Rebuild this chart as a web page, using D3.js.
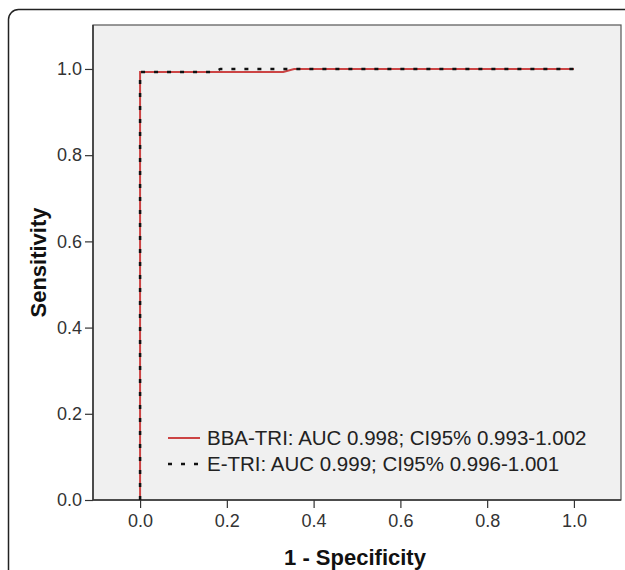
<!DOCTYPE html>
<html>
<head>
<meta charset="utf-8">
<script src="https://cdn.jsdelivr.net/npm/d3@7"></script>
<style>
  body { margin: 0; background: #fff; }
  text { font-family: "Liberation Sans", Arial, sans-serif; }
</style>
</head>
<body>
<svg id="chart" width="625" height="570"></svg>
<script>
// ROC points: [1 - specificity, sensitivity]
const bbaPoints = [[0, 0], [0, 0.993], [0.33, 0.993], [0.355, 1], [1, 1]];
const etriPoints = [[0, 0], [0, 0.993], [0.17, 0.993], [0.185, 1], [1, 1]];
const legendLabels = [
  'BBA-TRI: AUC 0.998; CI95% 0.993-1.002',
  'E-TRI: AUC 0.999; CI95% 0.996-1.001'
];
const xTicks = [0, 0.2, 0.4, 0.6, 0.8, 1.0];
const yTicks = [0, 0.2, 0.4, 0.6, 0.8, 1.0];

const svg = d3.select('#chart');

// outer rounded frame (runs off the right/bottom edges)
svg.append('rect')
  .attr('x', 8.5).attr('y', 9.5)
  .attr('width', 700).attr('height', 700)
  .attr('rx', 10)
  .style('fill', 'white')
  .style('stroke', '#222')
  .style('stroke-width', 1.5);

const margin = { left: 93, top: 25, right: 621, bottom: 500 };

const x = d3.scaleLinear().domain([-0.1085, 1.1085]).range([margin.left, margin.right]);
const y = d3.scaleLinear().domain([0, 1.102]).range([margin.bottom, margin.top]);

svg.append('rect')
  .attr('x', margin.left).attr('y', margin.top)
  .attr('width', margin.right - margin.left)
  .attr('height', margin.bottom - margin.top)
  .style('fill', '#f0f0f0')
  .style('stroke', '#555')
  .style('stroke-width', 1.2);

const xAxis = d3.axisBottom(x).tickValues(xTicks).tickFormat(d3.format('.1f')).tickSize(8).tickPadding(6);
const yAxis = d3.axisLeft(y).tickValues(yTicks).tickFormat(d3.format('.1f')).tickSize(8).tickPadding(3);

const xG = svg.append('g').attr('transform', `translate(0,${margin.bottom})`).call(xAxis);
const yG = svg.append('g').attr('transform', `translate(${margin.left},0)`).call(yAxis);
[xG, yG].forEach(g => {
  g.attr('font-family', null).attr('font-size', null);
  g.select('.domain').remove();
  g.selectAll('line').style('stroke', '#333').style('stroke-width', 1.2);
  g.selectAll('text').style('font-size', '18px').style('fill', '#333');
});
svg.append('line')
  .attr('x1', margin.left).attr('x2', margin.right)
  .attr('y1', margin.bottom).attr('y2', margin.bottom)
  .style('stroke', '#333').style('stroke-width', 1.5);
svg.append('line')
  .attr('x1', margin.left).attr('x2', margin.left)
  .attr('y1', margin.top).attr('y2', margin.bottom)
  .style('stroke', '#333').style('stroke-width', 1.5);

// axis titles
svg.append('text')
  .attr('x', (margin.left + margin.right) / 2 - 2)
  .attr('y', 565)
  .attr('text-anchor', 'middle')
  .style('font-size', '22px').style('font-weight', 'bold').style('fill', '#111')
  .text('1 - Specificity');
svg.append('text')
  .attr('transform', `translate(46,${(margin.top + margin.bottom) / 2}) rotate(-90)`)
  .attr('text-anchor', 'middle')
  .style('font-size', '22px').style('font-weight', 'bold').style('fill', '#111')
  .text('Sensitivity');

const line = d3.line().x(d => x(d[0])).y(d => y(d[1]));

svg.append('path')
  .datum(bbaPoints)
  .attr('d', line)
  .style('fill', 'none')
  .style('stroke', '#cc4444')
  .style('stroke-width', 2);

svg.append('path')
  .datum(etriPoints)
  .attr('d', line)
  .style('fill', 'none')
  .style('stroke', '#111')
  .style('stroke-width', 2.5)
  .style('stroke-dasharray', '4,9');

// legend
const legend = svg.append('g').attr('transform', 'translate(168,438)');
const styles = [
  { stroke: '#cc4444', width: 2, dash: null },
  { stroke: '#111', width: 2.5, dash: '4,9' }
];
legendLabels.forEach((label, i) => {
  const g = legend.append('g').attr('transform', `translate(0,${i * 26})`);
  g.append('line')
    .attr('x1', 0).attr('x2', 32).attr('y1', 0).attr('y2', 0)
    .style('stroke', styles[i].stroke)
    .style('stroke-width', styles[i].width)
    .style('stroke-dasharray', styles[i].dash);
  g.append('text')
    .attr('x', 39).attr('y', 7)
    .style('font-size', '20.5px').style('fill', '#222')
    .text(label);
});
</script>
</body>
</html>
